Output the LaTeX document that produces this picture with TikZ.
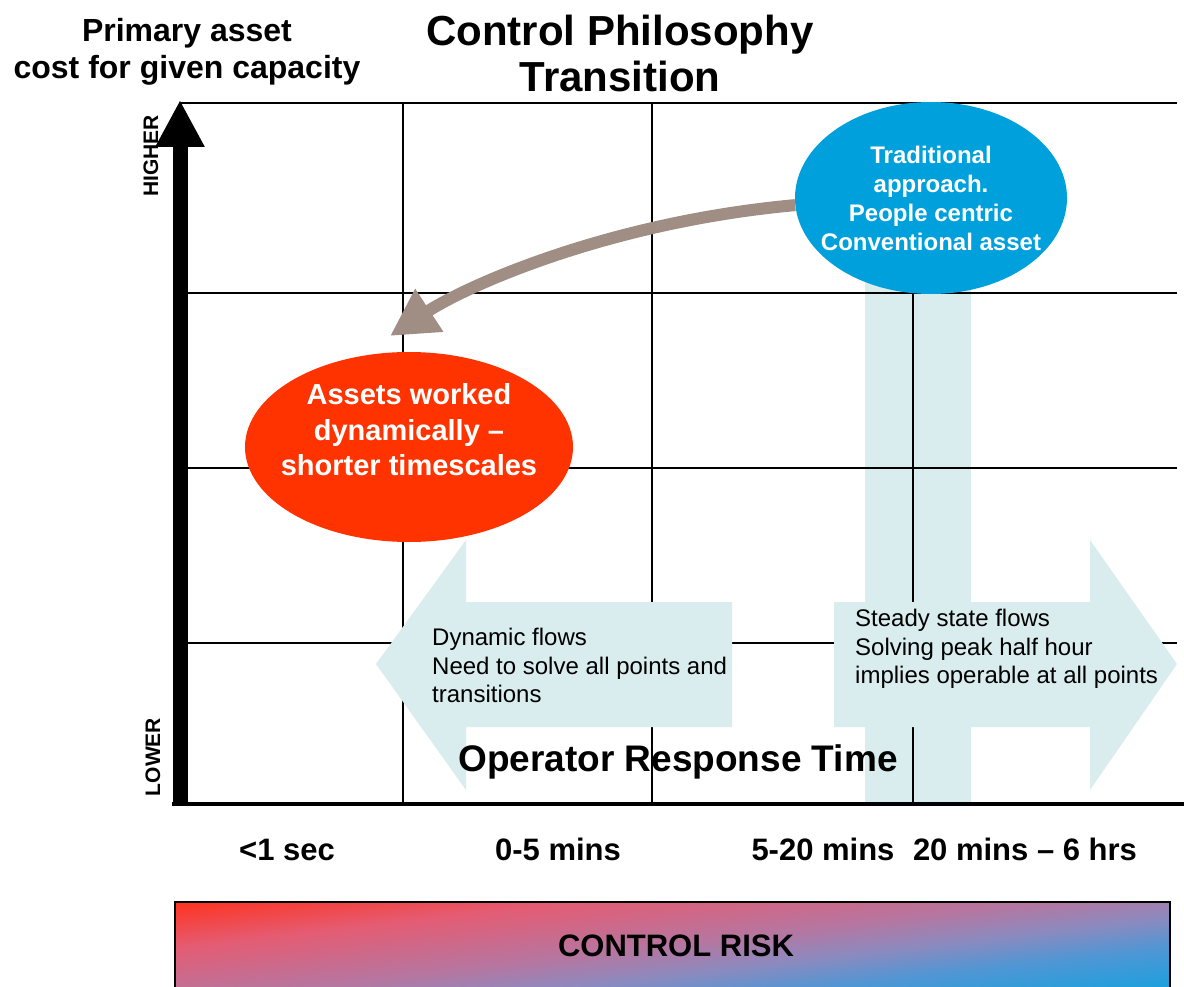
\documentclass[tikz,border=0pt]{standalone}
\usepackage{fontspec}
\setmainfont{Liberation Sans}
\usetikzlibrary{arrows.meta,shapes.geometric}
\definecolor{tradblue}{RGB}{0,160,220}
\definecolor{dynred}{RGB}{255,51,0}
\definecolor{flowtint}{RGB}{217,236,238}
\definecolor{curvegrey}{RGB}{160,141,131}
\definecolor{riskred}{RGB}{255,50,30}
\definecolor{riskrose}{RGB}{228,92,115}
\definecolor{riskmid}{RGB}{182,118,160}
\definecolor{risklilac}{RGB}{140,138,190}
\definecolor{riskazure}{RGB}{80,150,212}
\definecolor{riskblue}{RGB}{28,160,222}
\pgfdeclareverticalshading{riskshade}{100bp}{color(0bp)=(riskblue); color(15bp)=(riskblue); color(29bp)=(riskazure); color(39.5bp)=(risklilac); color(50bp)=(riskmid); color(69bp)=(riskrose); color(85bp)=(riskred); color(100bp)=(riskred)}

\begin{document}
\begin{tikzpicture}[x=1pt,y=-1pt]
\tikzstyle{every node}+=[inner sep=0pt]
\tikzstyle{gridline}=[black,line width=2pt]
\tikzstyle{flowshape}=[fill=flowtint]
\tikzstyle{bubbletext}=[text=white,align=center]
\tikzstyle{flowtext}=[anchor=north west,align=left,font=\fontsize{24}{28.5}\selectfont]
\tikzstyle{bandlabel}=[anchor=base,font=\fontsize{31}{36}\selectfont\bfseries]
\clip (0,0) rectangle (1184,987);
\fill[white] (0,0) rectangle (1184,987);

\fill[flowshape] (865,250) rectangle (971,803);
\draw[gridline] (180,103) -- (1177,103);
\foreach \y in {293,468,643} \draw[gridline] (187,\y) -- (1177,\y);
\foreach \x in {403,652,913} \draw[gridline] (\x,103) -- (\x,803);

\fill[flowshape] (732,602) -- (466,602) -- (466,540) -- (376,664) -- (466,790) -- (466,727) -- (732,727) -- cycle;
\fill[flowshape] (834,602) -- (1090,602) -- (1090,540) -- (1177,664) -- (1090,790) -- (1090,727) -- (834,727) -- cycle;

\coordinate (origin) at (180,806);
\coordinate (ytop) at (180,100);
\coordinate (xstart) at (172,804);
\coordinate (xend) at (1184,804);
\draw[line width=15pt,-{Triangle[length=47pt,width=46pt]}] (origin) -- (ytop);
\draw[line width=4pt] (xstart) -- (xend);

\node[ellipse,fill=tradblue,minimum width=272pt,minimum height=192pt] (trad) at (931,198) {};
\node[ellipse,fill=dynred,minimum width=328pt,minimum height=190pt] (dyn) at (409,447) {};
\coordinate (dyntip) at (390,336);
\draw[curvegrey,line width=12pt,-{Triangle[length=47pt,width=48pt]}] (trad.183) .. controls (610,222) and (468,285) .. (dyntip);

\node[bubbletext,font=\fontsize{24}{29}\selectfont\bfseries] (tradtext) at (trad.center) {Traditional\\approach.\\People centric\\Conventional asset};
\node[bubbletext,font=\fontsize{29}{35.5}\selectfont\bfseries] (dyntext) at (409,430) {Assets worked\\dynamically –\\shorter timescales};

\node[flowtext] (dynflow) at (432,628) {Dynamic flows\\Need to solve all points and\\transitions};
\node[flowtext] (steadyflow) at (855,609) {Steady state flows\\Solving peak half hour\\implies operable at all points};
\node[anchor=base,font=\fontsize{37}{40}\selectfont\bfseries] (ortime) at (678,771) {Operator Response Time};

\node[align=center,font=\fontsize{42}{46}\selectfont\bfseries] (title) at (620,53) {Control Philosophy\\Transition};
\node[align=center,font=\fontsize{32}{37}\selectfont\bfseries] (ytitle) at (187,52) {Primary asset\\cost for given capacity};
\node[rotate=90,font=\fontsize{21}{24}\selectfont\bfseries] (higher) at (151,156) {HIGHER};
\node[rotate=90,font=\fontsize{21}{24}\selectfont\bfseries] (lower) at (153,757) {LOWER};

\node[bandlabel] (lblsec) at (287,860) {<1 sec};
\node[bandlabel] (lblfive) at (558,860) {0-5 mins};
\node[bandlabel] (lbltwenty) at (823,860) {5-20 mins};
\node[bandlabel] (lblhours) at (1025,860) {20 mins – 6 hrs};

\begin{scope}[transform canvas={shift={(175,902)},xscale=11.706}]
\shade[shading=riskshade,shading angle=54] (0,0) rectangle (85,85);
\end{scope}
\draw[line width=2pt] (175,902) rectangle (1170,1000);
\node[anchor=base,font=\fontsize{31}{36}\selectfont\bfseries] (risk) at (676,956) {CONTROL RISK};
\end{tikzpicture}
\end{document}
